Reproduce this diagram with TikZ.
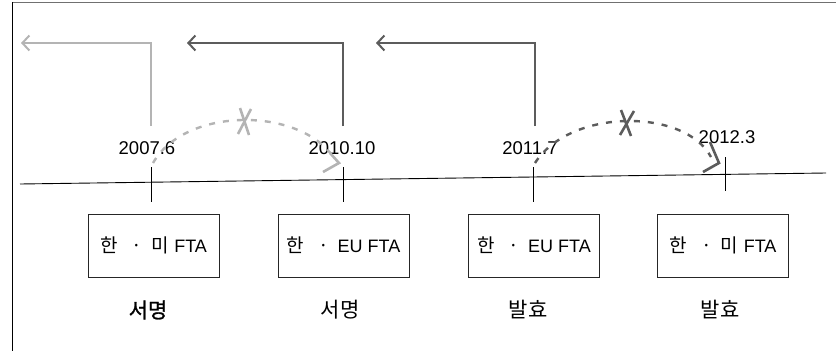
\documentclass[tikz,border=0pt]{standalone}
\usepackage{fontspec}
\setmainfont{Liberation Sans}
\newfontfamily\kr{Noto Sans CJK KR}
\newfontfamily\krb[FakeBold=1.2]{Noto Sans CJK KR}
\usetikzlibrary{arrows.meta}
\definecolor{lightg}{HTML}{B4B4B4}
\definecolor{darkg}{HTML}{5C5C5C}
\definecolor{frameg}{HTML}{707070}
\tikzset{
  fbox/.style={draw=black!85, line width=0.9pt, minimum width=131pt, minimum height=63pt, inner sep=0pt,
    font=\fontsize{18}{20}\selectfont},
  datelbl/.style={font=\fontsize{18.5}{21}\selectfont, inner sep=0pt},
  evlbl/.style={font=\kr\fontsize{21}{23}\selectfont, inner sep=0pt},
  tickline/.style={black, line width=0.9pt},
  uparrow/.style={line width=2.2pt, -{Straight Barb[length=7pt,width=15pt,line width=2pt]}},
  arcline/.style={line width=2.4pt, dash pattern=on 6pt off 8pt},
  headline/.style={line width=2.6pt},
}
\newcommand{\hanmi}{{\kr\fontsize{19}{21}\selectfont 한\hspace{0.75em}·\hspace{0.45em}미}\hspace{0.32em}FTA}
\newcommand{\haneu}{{\kr\fontsize{19}{21}\selectfont 한\hspace{0.75em}·\hspace{0.45em}}EU FTA}
\begin{document}
\begin{tikzpicture}[x=1pt,y=-1pt]
\useasboundingbox (0,0) rectangle (836,351);
% frame
\draw[frameg, line width=1.8pt] (12,2.5) -- (836,2.5);
\draw[black, line width=1pt] (12.5,2) -- (12.5,351);
% timeline
\coordinate (tlA) at (20,184);
\coordinate (tlB) at (826,173);
\draw[black, line width=0.9pt] (tlA) -- (tlB);
% ticks
\coordinate (k1a) at (151,167); \coordinate (k1b) at (151,202);
\coordinate (k2a) at (343,167); \coordinate (k2b) at (343,202);
\coordinate (k3a) at (533,167); \coordinate (k3b) at (533,202);
\coordinate (k4a) at (725,157); \coordinate (k4b) at (725,191);
\draw[tickline] (k1a) -- (k1b);
\draw[tickline] (k2a) -- (k2b);
\draw[tickline] (k3a) -- (k3b);
\draw[tickline] (k4a) -- (k4b);
% date labels
\node[datelbl] (d1) at (147,148) {2007.6};
\node[datelbl] (d2) at (342,148) {2010.10};
\node[datelbl] (d3) at (530,148) {2011.7};
\node[datelbl] (d4) at (727,137) {2012.3};
% boxes
\node[fbox] (b1) at (153.5,245.5) {\hanmi};
\node[fbox] (b2) at (343.5,245.5) {\haneu};
\node[fbox] (b3) at (534,245.5) {\haneu};
\node[fbox] (b4) at (723,245.5) {\hanmi};
% event labels
\node[evlbl, font=\krb\fontsize{21}{23}\selectfont] (e1) at (148,310) {서명};
\node[evlbl] (e2) at (340,310) {서명};
\node[evlbl] (e3) at (528,310) {발효};
\node[evlbl] (e4) at (720,310) {발효};
% upper arrows
\coordinate (u1s) at (151,126); \coordinate (u1c) at (151,43); \coordinate (u1e) at (21,43);
\coordinate (u2s) at (343,126); \coordinate (u2c) at (343,43); \coordinate (u2e) at (187,43);
\coordinate (u3s) at (535,126); \coordinate (u3c) at (535,43); \coordinate (u3e) at (376,43);
\draw[uparrow, lightg] (u1s) -- (u1c) -- (u1e);
\draw[uparrow, darkg] (u2s) -- (u2c) -- (u2e);
\draw[uparrow, darkg] (u3s) -- (u3c) -- (u3e);
% dashed arcs
\coordinate (a1s) at (153,163); \coordinate (a1e) at (334,158);
\draw[arcline, lightg] (a1s) .. controls (185,106.5) and (300,106.5) .. (a1e);
\coordinate (h1a) at (323,172); \coordinate (h1t) at (339,163); \coordinate (h1b) at (330,153);
\draw[headline, lightg] (h1a) -- (h1t) -- (h1b);
\coordinate (x1a) at (240,108); \coordinate (x1b) at (249,135);
\coordinate (x1c) at (251,109); \coordinate (x1d) at (238,134);
\draw[headline, lightg] (x1a) -- (x1b);
\draw[headline, lightg] (x1c) -- (x1d);
\coordinate (a2s) at (535,163); \coordinate (a2e) at (711,157);
\draw[arcline, darkg] (a2s) .. controls (570,108) and (685,108) .. (a2e);
\coordinate (h2a) at (703,172); \coordinate (h2t) at (719,163); \coordinate (h2b) at (710,142);
\draw[headline, darkg] (h2a) -- (h2t) -- (h2b);
\coordinate (x2a) at (621,110); \coordinate (x2b) at (631,136);
\coordinate (x2c) at (634,111); \coordinate (x2d) at (620,135);
\draw[headline, darkg] (x2a) -- (x2b);
\draw[headline, darkg] (x2c) -- (x2d);
\end{tikzpicture}
\end{document}
